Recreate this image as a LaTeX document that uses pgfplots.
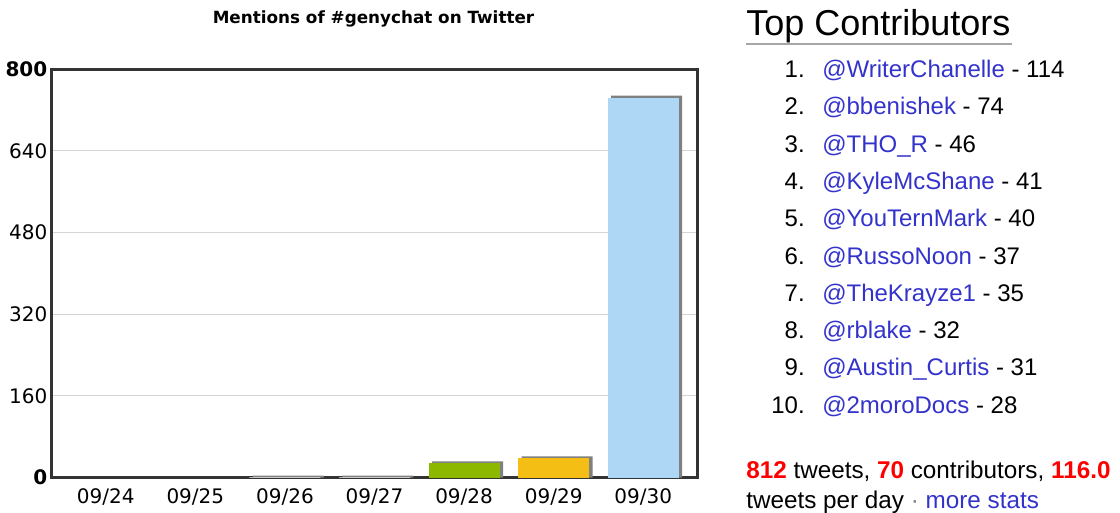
\documentclass[border=0pt]{standalone}
\usepackage{fontspec}
\setmainfont{Liberation Sans}
\newfontfamily\verdana{DejaVu Sans}
\usepackage{pgfplots}
\pgfplotsset{compat=1.18}
\definecolor{framec}{HTML}{333333}
\definecolor{gridc}{HTML}{D4D4D4}
\definecolor{shadowc}{HTML}{808080}
\definecolor{barG}{HTML}{8CB800}
\definecolor{barO}{HTML}{F5BE14}
\definecolor{barB}{HTML}{AED6F5}
\definecolor{linkc}{HTML}{3333CC}
\definecolor{redc}{HTML}{FF0000}
\newcommand\PX[2]{({(#1)*0.75pt},{(512-(#2))*0.75pt})}
\begin{document}
\begin{tikzpicture}
\path[use as bounding box] (0,0) rectangle (840pt,384pt);
\begin{axis}[
  at={(39pt,25.725pt)}, anchor=south west, scale only axis,
  width=483.75pt, height=306.5pt,
  xmin=-0.6, xmax=6.6, ymin=0, ymax=800,
  ytick={0,160,320,480,640,800},
  yticklabels={\textbf{0},160,320,480,640,\textbf{800}},
  xtick={0,1,2,3,4,5,6},
  xticklabels={09/24,09/25,09/26,09/27,09/28,09/29,09/30},
  major tick length=0pt,
  ymajorgrids, grid style={gridc, line width=0.75pt},
  axis line style={line width=2.25pt, draw=framec},
  tick label style={font=\verdana\fontsize{15}{16}\selectfont},
  /pgf/number format/assume math mode=true,
  xticklabel style={yshift=-5pt},
  yticklabel style={xshift=0pt},
  ybar, bar width=53.25pt,
  clip=false,
]
% shadows
\addplot[ybar, bar shift=2.6pt, fill=shadowc, draw=none] coordinates {(2,4) (3,4) (4,32) (5,42) (6,748)};
% bars
\addplot[ybar, bar shift=0pt, fill=white, draw=none] coordinates {(2,1) (3,1)};
\addplot[ybar, bar shift=0pt, fill=barG, draw=none] coordinates {(4,28)};
\addplot[ybar, bar shift=0pt, fill=barO, draw=none] coordinates {(5,38)};
\addplot[ybar, bar shift=0pt, fill=barB, draw=none] coordinates {(6,744)};
\end{axis}
% chart title
\node[font=\verdana\bfseries\fontsize{12.6}{13}\selectfont, anchor=base] at \PX{373.5}{23.5} {Mentions of \#genychat on Twitter};
% right panel
\node[anchor=base west, inner sep=0pt, font=\fontsize{27}{29}\selectfont] at \PX{746}{35.5} {Top Contributors};
\draw[gray!70, line width=1.5pt] \PX{746}{44.3} -- \PX{1012}{44.3};
\foreach \i/\n/\v in {1/WriterChanelle/114, 2/bbenishek/74, 3/THO\_R/46, 4/KyleMcShane/41, 5/YouTernMark/40, 6/RussoNoon/37, 7/TheKrayze1/35, 8/rblake/32, 9/Austin\_Curtis/31, 10/2moroDocs/28}{
  \node[anchor=base east, inner sep=0pt, font=\fontsize{18}{20}\selectfont] at \PX{805}{77.5+37.3*(\i-1)} {\i.};
  \node[anchor=base west, inner sep=0pt, font=\fontsize{18}{20}\selectfont] at \PX{822}{77.5+37.3*(\i-1)} {\textcolor{linkc}{@\n} - \v};
}
\node[anchor=base west, inner sep=0pt, font=\fontsize{18.2}{20}\selectfont] at \PX{746}{478} {\textcolor{redc}{\textbf{812}} tweets, \textcolor{redc}{\textbf{70}} contributors, \textcolor{redc}{\textbf{116.0}}};
\node[anchor=base west, inner sep=0pt, font=\fontsize{18.2}{20}\selectfont] at \PX{746}{508} {tweets per day \textcolor{gray}{·} \textcolor{linkc}{more stats}};
\end{tikzpicture}
\end{document}
